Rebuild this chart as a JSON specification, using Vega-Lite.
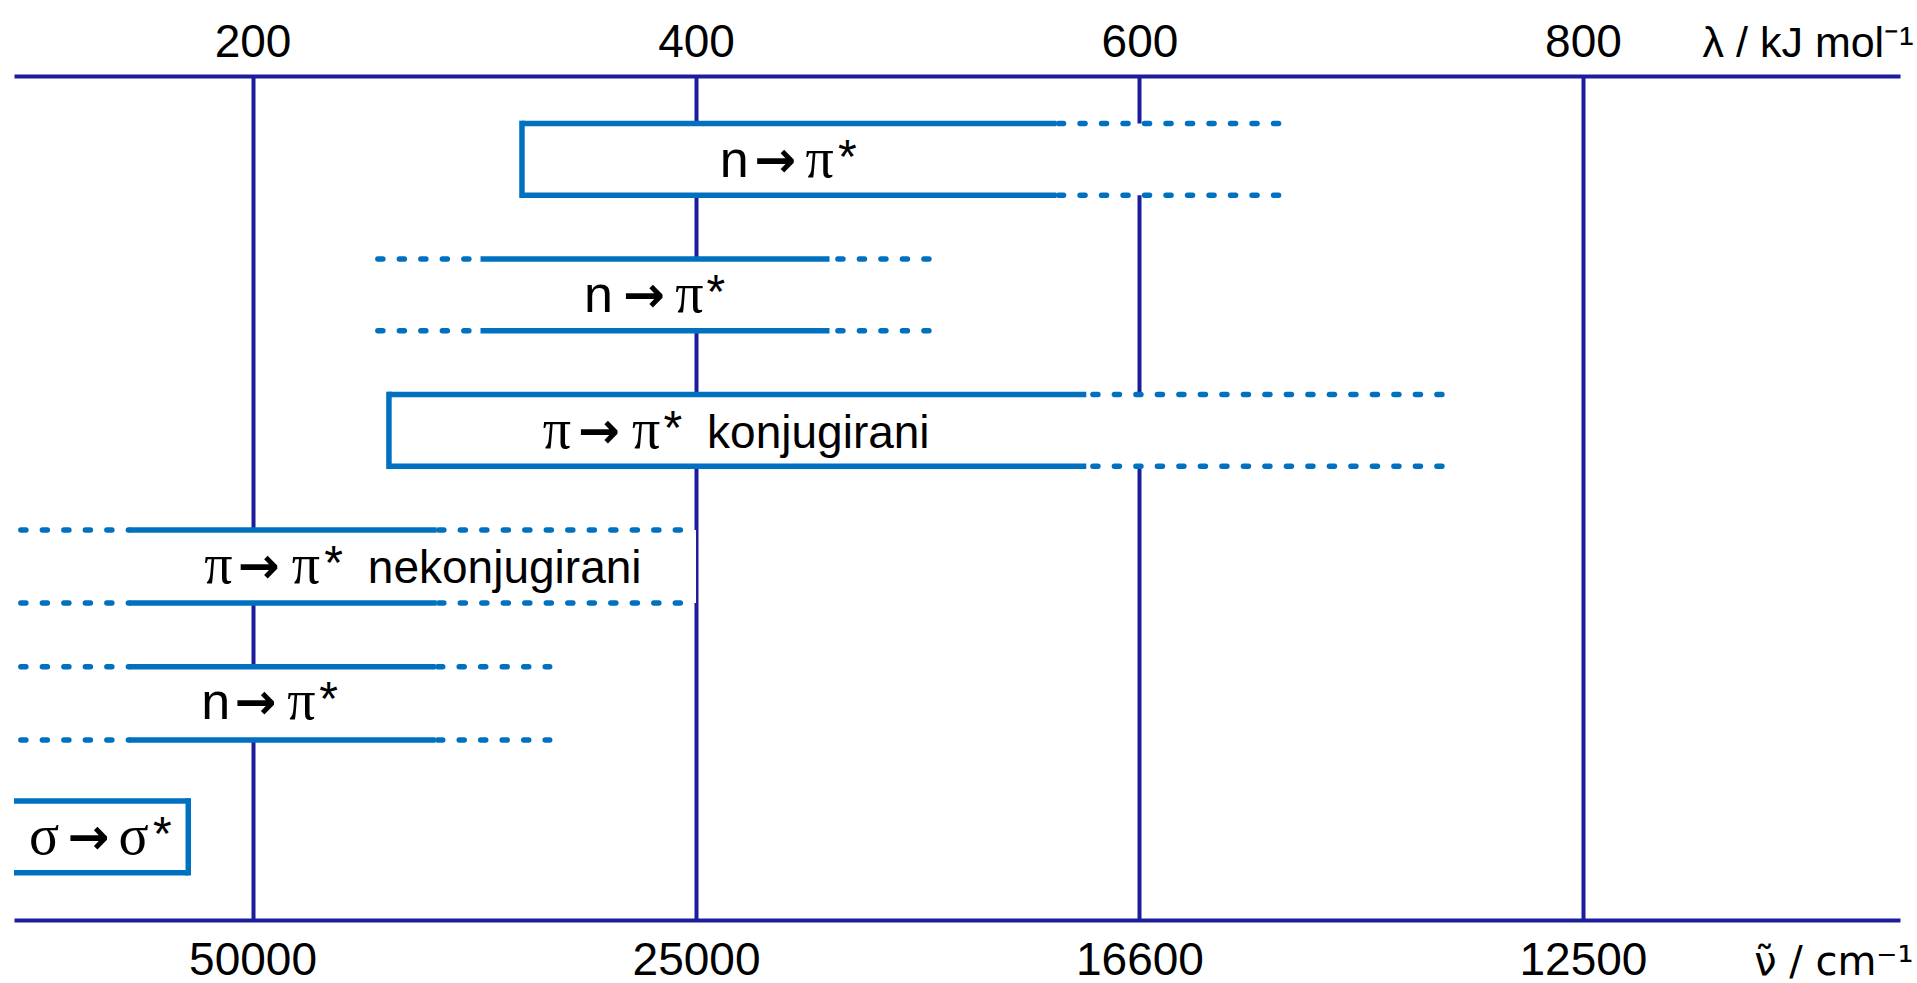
{
  "$schema": "https://vega.github.io/schema/vega-lite/v6.json",
  "width": 1886,
  "height": 844,
  "autosize": {"type": "none"},
  "padding": {"left": 14, "top": 76, "right": 17, "bottom": 63},
  "background": "white",
  "config": {"view": {"stroke": null}},
  "datasets": {
    "boxes": [
      {"row": 1, "top": 0.35, "bottom": 0.88, "x1": 321.5, "x2": 666},
      {"row": 2, "top": 1.35, "bottom": 1.88, "x1": 255.4, "x2": 510},
      {"row": 3, "top": 2.35, "bottom": 2.88, "x1": 261.5, "x2": 742},
      {"row": 4, "top": 3.35, "bottom": 3.89, "x1": 94.4, "x2": 400},
      {"row": 5, "top": 4.36, "bottom": 4.9, "x1": 94.4, "x2": 334},
      {"row": 6, "top": 5.35, "bottom": 5.88, "x1": 92.4, "x2": 171}
    ],
    "solid": [
      {"y": 0.35, "x1": 321.5, "x2": 562.5}, {"y": 0.88, "x1": 321.5, "x2": 562.5},
      {"y": 1.35, "x1": 302.8, "x2": 460.2}, {"y": 1.88, "x1": 302.8, "x2": 460.2},
      {"y": 2.35, "x1": 261.5, "x2": 576}, {"y": 2.88, "x1": 261.5, "x2": 576},
      {"y": 3.35, "x1": 144.5, "x2": 283}, {"y": 3.89, "x1": 144.5, "x2": 283},
      {"y": 4.36, "x1": 144.5, "x2": 282.5}, {"y": 4.9, "x1": 144.5, "x2": 282.5},
      {"y": 5.35, "x1": 92.4, "x2": 171}, {"y": 5.88, "x1": 92.4, "x2": 171}
    ],
    "dotted": [
      {"y": 0.35, "x1": 563.5, "x2": 665}, {"y": 0.88, "x1": 563.5, "x2": 665},
      {"y": 1.35, "x1": 256.5, "x2": 302.8}, {"y": 1.88, "x1": 256.5, "x2": 302.8},
      {"y": 1.35, "x1": 464, "x2": 509}, {"y": 1.88, "x1": 464, "x2": 509},
      {"y": 2.35, "x1": 579, "x2": 741}, {"y": 2.88, "x1": 579, "x2": 741},
      {"y": 3.35, "x1": 95.5, "x2": 144.5}, {"y": 3.89, "x1": 95.5, "x2": 144.5},
      {"y": 3.35, "x1": 284, "x2": 400}, {"y": 3.89, "x1": 284, "x2": 400},
      {"y": 4.36, "x1": 95.5, "x2": 144.5}, {"y": 4.9, "x1": 95.5, "x2": 144.5},
      {"y": 4.36, "x1": 283.5, "x2": 334}, {"y": 4.9, "x1": 283.5, "x2": 334}
    ],
    "edges": [
      {"x": 321.5, "y1": 0.35, "y2": 0.88},
      {"x": 261.5, "y1": 2.35, "y2": 2.88},
      {"x": 171, "y1": 5.35, "y2": 5.88}
    ],
    "labels": [
      {"f": "n", "x": 417.2, "y": 0.745, "text": "n"},
      {"f": "arrow", "x": 435.7, "y": 0.745, "text": "→"},
      {"f": "greek", "x": 455.8, "y": 0.745, "text": "π"},
      {"f": "star", "x": 468.3, "y": 0.745, "text": "*"},
      {"f": "n", "x": 356, "y": 1.745, "text": "n"},
      {"f": "arrow", "x": 376.5, "y": 1.745, "text": "→"},
      {"f": "greek", "x": 397, "y": 1.745, "text": "π"},
      {"f": "star", "x": 408.9, "y": 1.745, "text": "*"},
      {"f": "greek", "x": 337.2, "y": 2.745, "text": "π"},
      {"f": "arrow", "x": 356.2, "y": 2.745, "text": "→"},
      {"f": "greek", "x": 377.5, "y": 2.745, "text": "π"},
      {"f": "star", "x": 389.5, "y": 2.745, "text": "*"},
      {"f": "word", "x": 405, "y": 2.745, "text": "konjugirani"},
      {"f": "greek", "x": 184.6, "y": 3.745, "text": "π"},
      {"f": "arrow", "x": 202.8, "y": 3.745, "text": "→"},
      {"f": "greek", "x": 224, "y": 3.745, "text": "π"},
      {"f": "star", "x": 236.5, "y": 3.745, "text": "*"},
      {"f": "word", "x": 252, "y": 3.745, "text": "nekonjugirani"},
      {"f": "n", "x": 183.4, "y": 4.745, "text": "n"},
      {"f": "arrow", "x": 201.3, "y": 4.745, "text": "→"},
      {"f": "greek", "x": 222, "y": 4.745, "text": "π"},
      {"f": "star", "x": 234.3, "y": 4.745, "text": "*"},
      {"f": "greek", "x": 106, "y": 5.745, "text": "σ"},
      {"f": "arrow", "x": 126, "y": 5.745, "text": "→"},
      {"f": "greek", "x": 146.3, "y": 5.745, "text": "σ"},
      {"f": "star", "x": 159.3, "y": 5.745, "text": "*"}
    ]
  },
  "resolve": {"axis": {"x": "independent"}},
  "layer": [
    {
      "data": {"name": "boxes"},
      "mark": {"type": "rect", "fill": "white", "stroke": null},
      "encoding": {
        "x": {
          "field": "x1", "type": "quantitative",
          "scale": {"domain": [92.4, 943], "nice": false, "zero": false},
          "axis": {
            "orient": "top", "values": [200, 400, 600, 800],
            "grid": true, "gridColor": "#1c1c9c", "gridWidth": 4, "gridOpacity": 1,
            "domain": true, "domainColor": "#1c1c9c", "domainWidth": 4,
            "ticks": false, "tickSize": 0,
            "labelFont": "Liberation Sans", "labelFontSize": 46, "labelColor": "black",
            "labelBaseline": "alphabetic", "labelPadding": 20, "labelFlush": false, "labelOverlap": false,
            "title": "λ / kJ mol⁻¹", "titleFont": "Liberation Sans", "titleFontSize": 43,
            "titleFontWeight": "normal", "titleColor": "black", "titleAlign": "right",
            "titleX": 1899, "titleY": -20, "titleBaseline": "alphabetic"
          }
        },
        "x2": {"field": "x2"},
        "y": {"field": "top", "type": "quantitative", "scale": {"domain": [0, 6.229], "reverse": true, "nice": false, "zero": false}, "axis": null},
        "y2": {"field": "bottom"}
      }
    },
    {
      "data": {"name": "solid"},
      "mark": {"type": "rule", "color": "#0070c0", "strokeWidth": 5.5, "strokeCap": "butt"},
      "encoding": {
        "x": {
          "field": "x1", "type": "quantitative",
          "axis": {
            "orient": "bottom", "values": [200, 400, 600, 800],
            "labelExpr": "datum.value == 200 ? '50000' : datum.value == 400 ? '25000' : datum.value == 600 ? '16600' : '12500'",
            "grid": false,
            "domain": true, "domainColor": "#1c1c9c", "domainWidth": 4,
            "ticks": false, "tickSize": 0,
            "labelFont": "Liberation Sans", "labelFontSize": 46, "labelColor": "black",
            "labelBaseline": "alphabetic", "labelPadding": 54, "labelFlush": false, "labelOverlap": false,
            "title": "ν̃ / cm⁻¹", "titleFont": "DejaVu Sans", "titleFontSize": 40,
            "titleFontWeight": "normal", "titleColor": "black", "titleAlign": "right",
            "titleX": 1899, "titleY": 54, "titleBaseline": "alphabetic"
          }
        },
        "x2": {"field": "x2"},
        "y": {"field": "y", "type": "quantitative", "axis": null}
      }
    },
    {
      "data": {"name": "dotted"},
      "mark": {"type": "rule", "color": "#0070c0", "strokeWidth": 5.5, "strokeCap": "round", "strokeDash": [5, 16.5]},
      "encoding": {
        "x": {"field": "x1", "type": "quantitative", "axis": null},
        "x2": {"field": "x2"},
        "y": {"field": "y", "type": "quantitative", "axis": null}
      }
    },
    {
      "data": {"name": "edges"},
      "mark": {"type": "rule", "color": "#0070c0", "strokeWidth": 5.5, "strokeCap": "square"},
      "encoding": {
        "x": {"field": "x", "type": "quantitative", "axis": null},
        "y": {"field": "y1", "type": "quantitative", "axis": null},
        "y2": {"field": "y2"}
      }
    },
    {
      "data": {"name": "labels"},
      "transform": [{"filter": "datum.f == 'n'"}],
      "mark": {"type": "text", "font": "Liberation Sans", "fontSize": 52, "align": "center", "baseline": "alphabetic", "color": "black"},
      "encoding": {
        "x": {"field": "x", "type": "quantitative", "axis": null},
        "y": {"field": "y", "type": "quantitative", "axis": null},
        "text": {"field": "text"}
      }
    },
    {
      "data": {"name": "labels"},
      "transform": [{"filter": "datum.f == 'greek'"}],
      "mark": {"type": "text", "font": "Liberation Serif", "fontSize": 56, "align": "center", "baseline": "alphabetic", "color": "black"},
      "encoding": {
        "x": {"field": "x", "type": "quantitative", "axis": null},
        "y": {"field": "y", "type": "quantitative", "axis": null},
        "text": {"field": "text"}
      }
    },
    {
      "data": {"name": "labels"},
      "transform": [{"filter": "datum.f == 'arrow'"}],
      "mark": {"type": "text", "font": "DejaVu Sans", "fontSize": 50, "fontWeight": "bold", "align": "center", "baseline": "alphabetic", "color": "black"},
      "encoding": {
        "x": {"field": "x", "type": "quantitative", "axis": null},
        "y": {"field": "y", "type": "quantitative", "axis": null},
        "text": {"field": "text"}
      }
    },
    {
      "data": {"name": "labels"},
      "transform": [{"filter": "datum.f == 'star'"}],
      "mark": {"type": "text", "font": "Liberation Sans", "fontSize": 48, "dy": -4, "align": "center", "baseline": "alphabetic", "color": "black"},
      "encoding": {
        "x": {"field": "x", "type": "quantitative", "axis": null},
        "y": {"field": "y", "type": "quantitative", "axis": null},
        "text": {"field": "text"}
      }
    },
    {
      "data": {"name": "labels"},
      "transform": [{"filter": "datum.f == 'word'"}],
      "mark": {"type": "text", "font": "Liberation Sans", "fontSize": 46, "align": "left", "baseline": "alphabetic", "color": "black"},
      "encoding": {
        "x": {"field": "x", "type": "quantitative", "axis": null},
        "y": {"field": "y", "type": "quantitative", "axis": null},
        "text": {"field": "text"}
      }
    }
  ]
}
